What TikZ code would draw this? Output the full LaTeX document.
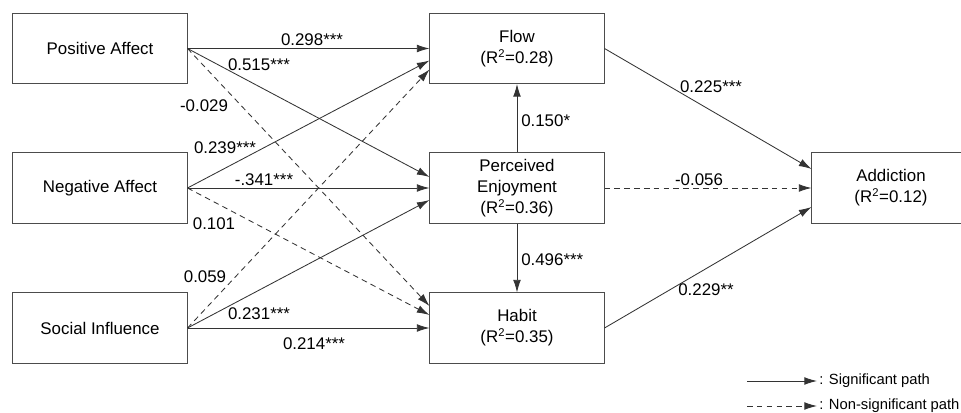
\documentclass[tikz,border=0pt]{standalone}
\usepackage{fontspec}
\setmainfont{Liberation Sans}
\usetikzlibrary{arrows.meta,calc}
\tikzset{box/.style={draw=black!70,line width=0.7pt,minimum width=4.35cm,minimum height=1.75cm,align=center,inner sep=0pt}}

\begin{document}
\begin{tikzpicture}[x=0.025cm,y=-0.025cm,
  every node/.style={font=\fontsize{12}{15}\selectfont},
  sig/.style={draw=black!80,line width=0.6pt,-{Latex[length=9pt,width=5.5pt]}},
  nonsig/.style={sig,dash pattern=on 4pt off 3pt},
  lbl/.style={inner sep=0pt},
  legend/.style={anchor=west,inner sep=1.5pt,font=\fontsize{10.5}{12}\selectfont}]
\useasboundingbox (0,0) rectangle (961,413);

% the constructs
\node[box] (pa) at (100,48.5) {Positive Affect};
\node[box] (na) at (100,188) {Negative Affect};
\node[box] (si) at (100,328) {Social Influence};
\node[box] (flow) at (517,48.5) {Flow\\(R\textsuperscript{2}=0.28)};
\node[box] (pe) at (517,188) {Perceived\\Enjoyment\\(R\textsuperscript{2}=0.36)};
\node[box] (habit) at (517,328) {Habit\\(R\textsuperscript{2}=0.35)};
\node[box,minimum width=3.95cm] (add) at (891,188) {Addiction\\(R\textsuperscript{2}=0.12)};

% antecedents -> mediators
\foreach \from/\to/\dy/\kind in {pa/flow/0/sig, na/flow/12/sig, si/flow/21/nonsig,
    pa/pe/-11/sig, na/pe/0/sig, si/pe/12/sig,
    pa/habit/-22/nonsig, na/habit/-13/nonsig, si/habit/0/sig}
  \draw[\kind] (\from.east) -- ($(\to.west)+(0,\dy)$);

% mediators -> addiction
\draw[sig] (pe.north) -- (flow.south);
\draw[sig] (pe.south) -- (habit.north);
\draw[sig] (flow.east) -- ($(add.west)+(0,-19)$);
\draw[nonsig] (pe.east) -- (add.west);
\draw[sig] (habit.east) -- ($(add.west)+(0,19)$);

% path coefficients
\node[lbl] (c1) at (312,40) {0.298***};
\node[lbl] (c2) at (259,65) {0.515***};
\node[lbl] (c3) at (204,106) {-0.029};
\node[lbl] (c4) at (225,148) {0.239***};
\node[lbl] (c5) at (264,180) {-.341***};
\node[lbl] (c6) at (214,224) {0.101};
\node[lbl] (c7) at (205,277) {0.059};
\node[lbl] (c8) at (259,314) {0.231***};
\node[lbl] (c9) at (314,344) {0.214***};
\node[lbl] (c10) at (711,87) {0.225***};
\node[lbl,anchor=west] (c11) at (521,121) {0.150*};
\node[lbl] (c12) at (699,180) {-0.056};
\node[lbl,anchor=west] (c13) at (521,260) {0.496***};
\node[lbl] (c14) at (706,290) {0.229**};

% legend
\coordinate (sig0) at (747,381);
\coordinate (nonsig0) at (747,406);
\node[legend] (sigtxt) at (817,381) {: Significant path};
\node[legend] (nonsigtxt) at (817,406) {: Non-significant path};
\draw[sig] (sig0) -- (sigtxt.west);
\draw[nonsig] (nonsig0) -- (nonsigtxt.west);
\end{tikzpicture}
\end{document}
